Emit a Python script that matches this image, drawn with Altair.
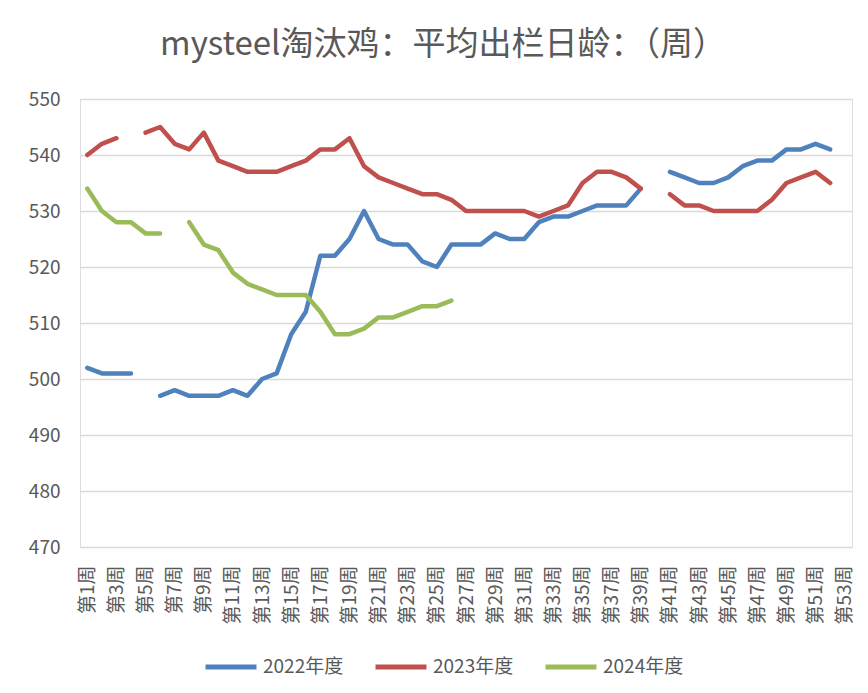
import altair as alt
import pandas as pd

weeks = [f"第{i}周" for i in range(1, 54)]
tick_weeks = [f"第{i}周" for i in range(1, 54, 2)]

series_names = ["2022年度", "2023年度", "2024年度"]
colors = ["#4F81BD", "#C0504D", "#9BBB59"]

v2022 = [502, 501, 501, 501, None, 497, 498, 497, 497, 497,
         498, 497, 500, 501, 508, 512, 522, 522, 525, 530,
         525, 524, 524, 521, 520, 524, 524, 524, 526, 525,
         525, 528, 529, 529, 530, 531, 531, 531, 534, None,
         537, 536, 535, 535, 536, 538, 539, 539, 541, 541,
         542, 541, None]
v2023 = [540, 542, 543, None, 544, 545, 542, 541, 544, 539,
         538, 537, 537, 537, 538, 539, 541, 541, 543, 538,
         536, 535, 534, 533, 533, 532, 530, 530, 530, 530,
         530, 529, 530, 531, 535, 537, 537, 536, 534, None,
         533, 531, 531, 530, 530, 530, 530, 532, 535, 536,
         537, 535, None]
v2024 = [534, 530, 528, 528, 526, 526, None, 528, 524, 523,
         519, 517, 516, 515, 515, 515, 512, 508, 508, 509,
         511, 511, 512, 513, 513, 514] + [None] * 27

rows = []
for name, vals in zip(series_names, [v2022, v2023, v2024]):
    for w, v in zip(weeks, vals):
        rows.append({"week": w, "series": name, "value": v})
df = pd.DataFrame(rows)

FONT = "Noto Sans CJK SC"
GREY = "#595959"

chart = alt.Chart(df).mark_line(
    strokeWidth=4.5, strokeCap="round", strokeJoin="round",
    invalid="break-paths-filter-domains"
).encode(
    x=alt.X("week:N", sort=weeks,
            scale=alt.Scale(type="point", domain=weeks, padding=0.5),
            axis=alt.Axis(title=None, values=tick_weeks, labelAngle=270,
                          labelFont=FONT, labelFontSize=19, labelColor=GREY,
                          labelPadding=18, ticks=False, domain=False,
                          grid=False, labelOverlap=False)),
    y=alt.Y("value:Q",
            scale=alt.Scale(domain=[470, 550], zero=False, nice=False),
            axis=alt.Axis(title=None, values=list(range(470, 551, 10)),
                          labelFont=FONT, labelFontSize=19, labelColor=GREY,
                          labelPadding=20, ticks=False, domain=False,
                          gridColor="#D9D9D9", gridWidth=1.3)),
    color=alt.Color("series:N",
                    scale=alt.Scale(domain=series_names, range=colors),
                    legend=alt.Legend(title=None, orient="none",
                                      direction="horizontal",
                                      legendX=123, legendY=540,
                                      symbolType="stroke", symbolSize=2600,
                                      symbolStrokeWidth=5,
                                      labelFont=FONT, labelFontSize=19,
                                      labelColor=GREY, labelOffset=4,
                                      columnPadding=21, padding=0)),
).properties(
    width=772, height=448,
    title=alt.TitleParams("mysteel淘汰鸡：平均出栏日龄：（周）",
                          font=FONT, fontSize=33, fontWeight="normal",
                          color=GREY, anchor="middle", dx=-23, offset=28),
    autosize=alt.AutoSizeParams(type="none"),
    padding={"left": 72, "top": 91, "right": 8, "bottom": 138},
).configure_view(stroke=None).configure(background="white")

chart.save("out.html", embed_options={"renderer": "svg", "actions": False})
